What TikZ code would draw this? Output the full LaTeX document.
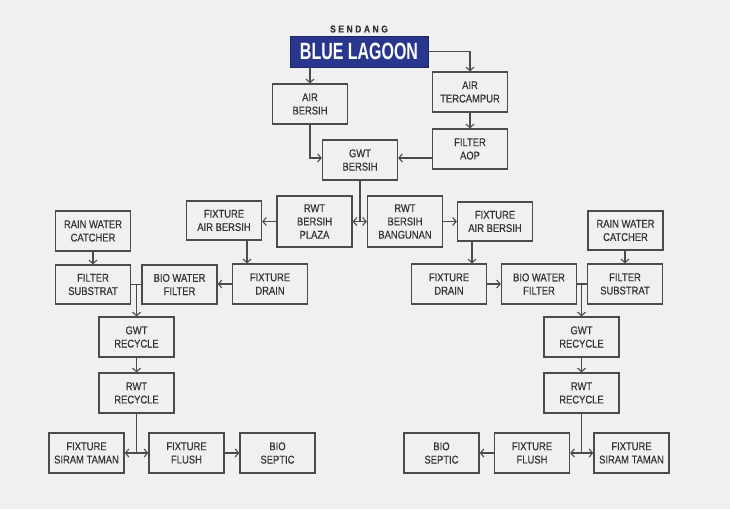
\documentclass[tikz,border=0pt]{standalone}
\usepackage{fontspec}
\setmainfont[FakeStretch=0.84,FakeBold=0.35]{Liberation Sans}
\newfontfamily\titlefont[FakeStretch=0.68]{Liberation Sans}
\usetikzlibrary{arrows.meta,calc}
\definecolor{bg}{RGB}{240,240,240}
\definecolor{boxline}{RGB}{75,75,75}
\definecolor{txt}{RGB}{50,50,50}
\definecolor{lagoon}{RGB}{40,54,142}
\tikzset{
  box/.style={draw=boxline, line width=1.3pt, fill=bg, minimum width=75pt, minimum height=40pt,
    inner sep=0pt, align=center, text=txt, font=\fontsize{11.2}{13.3}\selectfont},
  tallbox/.style={box, minimum height=51pt},
  conn/.style={draw=boxline, line width=1.1pt},
  arr/.style={conn, -{Straight Barb[length=3.5pt,width=8pt]}},
  darr/.style={conn, {Straight Barb[length=3.5pt,width=8pt]}-{Straight Barb[length=3.5pt,width=8pt]}}
}
\begin{document}
\begin{tikzpicture}[x=1pt,y=-1pt]
\path[fill=bg] (0,0) rectangle (730,509);
\useasboundingbox (0,0) rectangle (730,509);

% title
\node[text=txt, font=\bfseries\fontsize{10}{12}\selectfont] (sendang) at (359,29)
  {S\kern2.6pt E\kern2.6pt N\kern2.6pt D\kern2.6pt A\kern2.6pt N\kern2.6pt G};
\node[fill=lagoon, draw=lagoon!70!black, line width=0.8pt, minimum width=138pt, minimum height=31pt, inner sep=0pt,
  text=white, font=\titlefont\bfseries\fontsize{23.5}{26}\selectfont] (blue) at (359,51.5) {BLUE LAGOON};

% top section
\node[box] (airbersih) at (310,104) {AIR\\BERSIH};
\node[box] (aircampur) at (470,92) {AIR\\TERCAMPUR};
\node[box] (filteraop) at (470,149) {FILTER\\AOP};
\node[box] (gwtbersih) at (360,160) {GWT\\BERSIH};
\node[tallbox] (plaza) at (314.5,221.5) {RWT\\BERSIH\\PLAZA};
\node[tallbox] (bangunan) at (405,221.5) {RWT\\BERSIH\\BANGUNAN};

% left branch
\node[box, minimum height=39pt] (fabL) at (224,220.5) {FIXTURE\\AIR BERSIH};
\node[box] (drainL) at (270,284) {FIXTURE\\DRAIN};
\node[box, minimum height=39pt] (bwfL) at (179.5,284.5) {BIO WATER\\FILTER};
\node[box, minimum height=39pt] (fsL) at (93,284.5) {FILTER\\SUBSTRAT};
\node[box] (rwcL) at (93,231) {RAIN WATER\\CATCHER};
\node[box] (gwtrL) at (136.5,337) {GWT\\RECYCLE};
\node[box] (rwtrL) at (136.5,393) {RWT\\RECYCLE};
\node[box] (stL) at (86.5,453) {FIXTURE\\SIRAM TAMAN};
\node[box] (flL) at (186.5,453) {FIXTURE\\FLUSH};
\node[box] (bsL) at (277.5,453) {BIO\\SEPTIC};

% right branch
\node[box, minimum height=39pt] (fabR) at (495,221.5) {FIXTURE\\AIR BERSIH};
\node[box] (drainR) at (449,284) {FIXTURE\\DRAIN};
\node[box] (bwfR) at (539,284) {BIO WATER\\FILTER};
\node[box] (fsR) at (625,284) {FILTER\\SUBSTRAT};
\node[box, minimum height=39pt] (rwcR) at (625.5,230.5) {RAIN WATER\\CATCHER};
\node[box] (gwtrR) at (581.5,337) {GWT\\RECYCLE};
\node[box] (rwtrR) at (581.5,393) {RWT\\RECYCLE};
\node[box] (bsR) at (441.5,453) {BIO\\SEPTIC};
\node[box] (flR) at (532,453) {FIXTURE\\FLUSH};
\node[box] (stR) at (631.5,453) {FIXTURE\\SIRAM TAMAN};

% junction coordinates
\coordinate (j1) at (gwtbersih.south |- plaza.east);
\coordinate (jaop) at (filteraop.west |- 0,158);
\coordinate (jgwtw) at (gwtbersih.west |- 0,158);
\coordinate (jfabL) at ($(fabL.south east)!0.5!(drainL.north west)$);
\coordinate (jfabR) at ($(fabR.south west)!0.5!(drainR.north east)$);
\coordinate (jL) at (gwtrL.north |- fsL.east);
\coordinate (jR) at (gwtrR.north |- fsR.west);
\coordinate (jrL) at (rwtrL.south |- stL.east);
\coordinate (jrR) at (rwtrR.south |- stR.west);

% connectors: top
\draw[arr] (airbersih.north |- blue.south) -- (airbersih.north);
\draw[arr] (blue.east) -| (aircampur.north);
\draw[arr] (aircampur) -- (filteraop);
\draw[arr] (jaop) -- (jgwtw -| gwtbersih.east);
\draw[arr] (airbersih.south) |- (jgwtw);
\draw[conn] (gwtbersih.south) -- (j1);
\draw[darr] (plaza.east) -- (bangunan.west);
\draw[arr] (plaza.west) -- (plaza.west -| fabL.east);
\draw[arr] (bangunan.east) -- (bangunan.east -| fabR.west);

% left branch
\draw[arr] (jfabL |- fabL.south) -- (jfabL |- drainL.north);
\draw[arr] (drainL.west) -- (drainL.west -| bwfL.east);
\draw[arr] (rwcL) -- (fsL);
\draw[conn] (fsL.east) -- (fsL.east -| bwfL.west);
\draw[arr] (jL) -- (gwtrL.north);
\draw[arr] (gwtrL) -- (rwtrL);
\draw[conn] (rwtrL.south) -- (jrL);
\draw[darr] (stL.east) -- (flL.west);
\draw[arr] (flL) -- (bsL);

% right branch
\draw[arr] (jfabR |- fabR.south) -- (jfabR |- drainR.north);
\draw[arr] (drainR) -- (bwfR);
\draw[arr] (rwcR.south -| fsR.north) -- (fsR.north);
\draw[conn] (bwfR.east) -- (fsR.west);
\draw[arr] (jR) -- (gwtrR.north);
\draw[arr] (gwtrR) -- (rwtrR);
\draw[conn] (rwtrR.south) -- (jrR);
\draw[darr] (flR.east) -- (stR.west);
\draw[arr] (flR) -- (bsR);
\end{tikzpicture}
\end{document}
